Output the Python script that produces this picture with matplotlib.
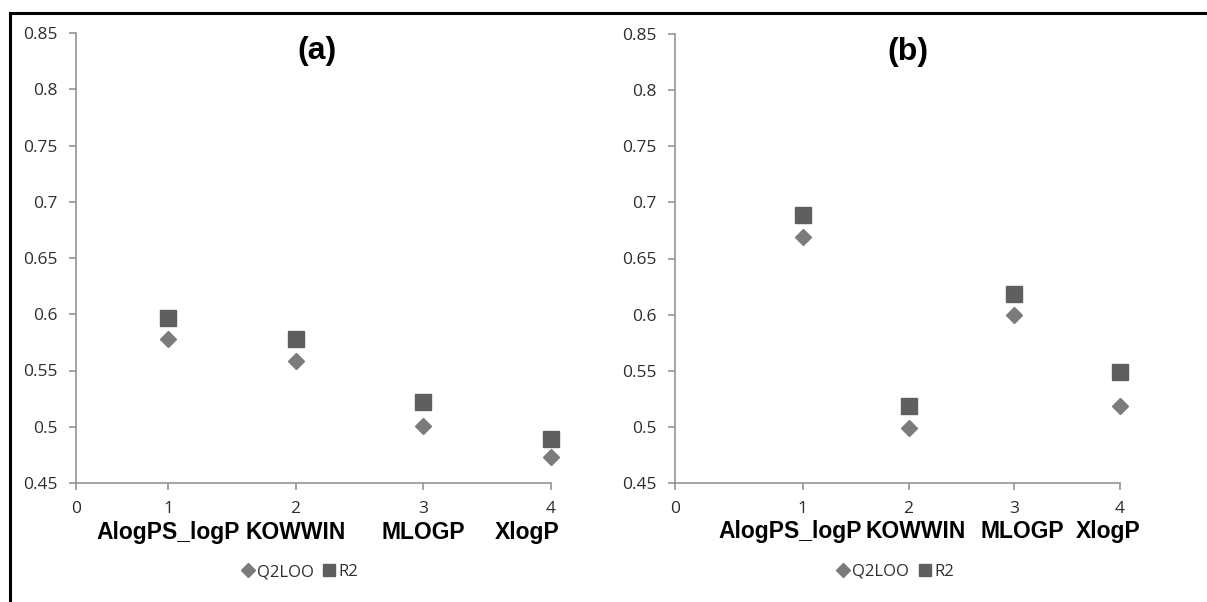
import numpy as np
import matplotlib
matplotlib.use('Agg')
import matplotlib.pyplot as plt
from matplotlib.lines import Line2D
from matplotlib.ticker import FuncFormatter

# data
methods = ['AlogPS_logP', 'KOWWIN', 'MLOGP', 'XlogP']
x_pos = [1, 2, 3, 4]

q2loo_a = [0.578, 0.558, 0.501, 0.473]
r2_a = [0.597, 0.578, 0.522, 0.489]

q2loo_b = [0.669, 0.499, 0.600, 0.519]
r2_b = [0.689, 0.519, 0.618, 0.549]

y_ticks = [0.45, 0.5, 0.55, 0.6, 0.65, 0.7, 0.75, 0.8, 0.85]

axis_col = '#8c8c8c'
text_col = '#2e2e2e'
q_col = '#7b7b7b'
r_col = '#5f5f5f'
tick_font = 'Open Sans'
bold_font = 'Liberation Sans'

W, H = 1207, 602
fig = plt.figure(figsize=(W / 100, H / 100), dpi=100)

# page border (top and left only visible in the crop)
fig.add_artist(Line2D([10 / W, 1], [1 - 13 / H, 1 - 13 / H], color='black', lw=2.2))
fig.add_artist(Line2D([10 / W, 10 / W], [0, 1 - 13 / H], color='black', lw=2.2))


def fmt_y(v, _):
    return ('%.2f' % v).rstrip('0')


def draw_panel(rect, xmin, q, r, title, title_x, label_dx, legend_x):
    ax = fig.add_axes(rect)
    ax.set_xlim(xmin, 4)
    ax.set_ylim(0.45, 0.85)
    ax.plot(x_pos, q, 'D', color=q_col, markersize=8.5, clip_on=False, label='Q2LOO')
    ax.plot(x_pos, r, 's', color=r_col, markersize=11, clip_on=False, label='R2')

    for s in ['top', 'right']:
        ax.spines[s].set_visible(False)
    for s in ['left', 'bottom']:
        ax.spines[s].set_color(axis_col)
        ax.spines[s].set_linewidth(1.1)

    ax.set_yticks(y_ticks)
    ax.yaxis.set_major_formatter(FuncFormatter(fmt_y))
    ax.set_xticks([xmin] + x_pos)
    ax.set_xticklabels(['0', '1', '2', '3', '4'])
    ax.tick_params(direction='out', length=5, width=1.1, color=axis_col,
                   labelcolor=text_col, labelsize=12.5, pad=8)
    for lab in ax.get_xticklabels() + ax.get_yticklabels():
        lab.set_fontfamily(tick_font)

    # category names under the numbers
    for xp, name, dx in zip(x_pos, methods, label_dx):
        ax.text(xp + dx, -0.109, name, transform=ax.get_xaxis_transform(),
                ha='center', va='center', fontsize=16.5, fontweight='bold',
                family=bold_font, color='black')

    ax.text(title_x, 0.96, title, transform=ax.transAxes, ha='center', va='center',
            fontsize=23, fontweight='bold', family=bold_font, color='black')

    leg = ax.legend(loc='center', bbox_to_anchor=(legend_x, -0.198), ncol=2,
                    frameon=False, handletextpad=0.1, columnspacing=0.5,
                    handlelength=0.9, markerscale=0.85,
                    prop={'family': tick_font, 'size': 12})
    for t in leg.get_texts():
        t.set_color(text_col)
    return ax


draw_panel([76 / W, 119 / H, 475 / W, 450 / H], 0.28, q2loo_a, r2_a,
           '(a)', 0.507, [0, 0, 0, -0.19], 0.47)
draw_panel([675 / W, 119 / H, 445 / W, 449 / H], -0.21, q2loo_b, r2_b,
           '(b)', 0.524, [-0.12, 0.07, 0.08, -0.11], 0.494)

fig.savefig('out.png', dpi=100)
